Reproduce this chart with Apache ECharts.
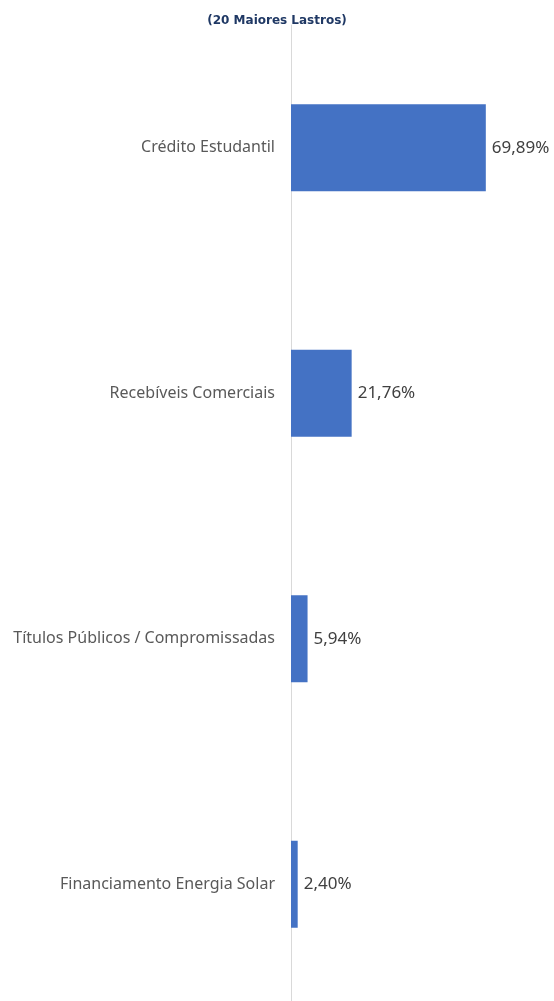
<!DOCTYPE html>
<html><head><meta charset="utf-8">
<script src="https://cdn.jsdelivr.net/npm/echarts@6/dist/echarts.min.js"></script>
<style>html,body{margin:0;padding:0;background:#fff;overflow:hidden}#c{width:554px;height:1007px}</style>
</head><body><div id="c"></div>
<script>
const titleText = '(20 Maiores Lastros)';
const categories = ['Crédito Estudantil','Recebíveis Comerciais','Títulos Públicos / Compromissadas','Financiamento Energia Solar'];
const values = [69.89, 21.76, 5.94, 2.40];
const FONT = 'Noto Sans';
const chart = echarts.init(document.getElementById('c'));
chart.setOption({
  animation:false,
  title:{text:titleText,left:'center',top:10,textStyle:{fontFamily:'Verdana, DejaVu Sans',fontWeight:'bold',fontSize:12,color:'#1F3864'}},
  grid:{left:291,top:25,right:40,bottom:0,containLabel:false},
  xAxis:{type:'value',min:0,max:80,show:false},
  yAxis:{type:'category',inverse:true,data:categories,
    axisLine:{show:true,lineStyle:{color:'#d9d9d9',width:1}},
    axisTick:{show:false},
    axisLabel:{margin:16,fontFamily:FONT,fontSize:16,color:'#595959'}},
  series:[{type:'bar',data:values,barWidth:87,itemStyle:{color:'#4472C4'},
    label:{show:true,position:'right',distance:6,fontFamily:FONT,fontSize:17,color:'#404040',
      formatter:p=>p.value.toFixed(2).replace('.',',')+'%'}}]
});
</script></body></html>
